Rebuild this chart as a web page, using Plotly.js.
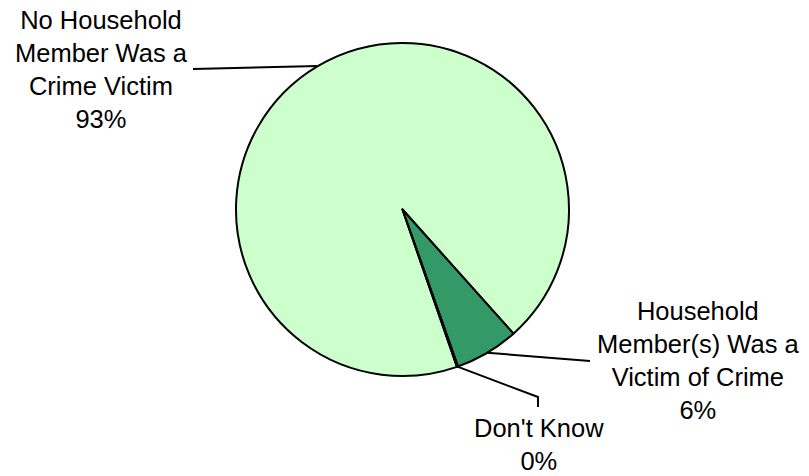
<!DOCTYPE html>
<html>
<head>
<meta charset="utf-8">
<script src="https://cdn.plot.ly/plotly-3.0.1.min.js"></script>
<style>html,body{margin:0;padding:0;background:#fff;}#chart{width:809px;height:476px;}</style>
</head>
<body>
<div id="chart"></div>
<script>
// ---- data ----
const categories = ["No Household Member Was a Crime Victim", "Household Member(s) Was a Victim of Crime", "Don't Know"];
const labelLines = [
  ["No Household", "Member Was a", "Crime Victim"],
  ["Household", "Member(s) Was a", "Victim of Crime"],
  ["Don't Know"]
];
const values = [93.7, 6.2, 0.1];
const pctLabels = ["93%", "6%", "0%"];
const colors = ["#CCFFCC", "#339966", "#339966"];

// ---- layout geometry ----
const W = 809, H = 476;
const cx = 402.5, cy = 209.5, R = 166.5;   // pie centre / radius in pixels
const rotation = 160.9;                    // first slice start (deg clockwise from 12 o'clock)

const domainX = [(cx - R) / W, (cx + R) / W];
const domainY = [(H - (cy + R)) / H, (H - (cy - R)) / H];

// label placement (pixels): centre x, centre y of text block, and leader line bends
const labelPos = [
  {x: 101, y: 69.5, leader: [[193, 69]]},
  {x: 698, y: 360, leader: [[590, 361]]},
  {x: 539, y: 444, leader: [[538, 397], [538, 407]]}
];

const total = values.reduce((a, b) => a + b, 0);
const px2paperX = x => x / W;
const px2paperY = y => (H - y) / H;

const annotations = [];
const shapes = [];
let start = rotation;
values.forEach((v, i) => {
  const sweep = v / total * 360;
  const mid = (start + sweep / 2) * Math.PI / 180;
  start += sweep;
  const sx = cx + R * Math.sin(mid);
  const sy = cy - R * Math.cos(mid);
  const pts = [[sx, sy]].concat(labelPos[i].leader);
  const path = pts.map((p, k) => (k ? "L" : "M") + px2paperX(p[0]).toFixed(5) + "," + px2paperY(p[1]).toFixed(5)).join(" ");
  shapes.push({type: "path", xref: "paper", yref: "paper", path: path,
               line: {color: "#000", width: 2}});
  annotations.push({
    xref: "paper", yref: "paper",
    x: px2paperX(labelPos[i].x), y: px2paperY(labelPos[i].y),
    xanchor: "center", yanchor: "middle", align: "center",
    showarrow: false,
    text: labelLines[i].concat([pctLabels[i]]).join("<br>"),
    font: {family: "Arial, Liberation Sans, sans-serif", size: 25.5, color: "#000"}
  });
});

const trace = {
  type: "pie",
  labels: categories,
  values: values,
  sort: false,
  direction: "clockwise",
  rotation: rotation,
  textinfo: "none",
  hoverinfo: "none",
  marker: {colors: colors, line: {color: "#000", width: 2}},
  domain: {x: domainX, y: domainY},
  showlegend: false
};

Plotly.newPlot("chart", [trace], {
  width: W, height: H,
  margin: {l: 0, r: 0, t: 0, b: 0},
  paper_bgcolor: "#fff",
  plot_bgcolor: "#fff",
  showlegend: false,
  shapes: shapes,
  annotations: annotations
}, {staticPlot: true});
</script>
</body>
</html>
